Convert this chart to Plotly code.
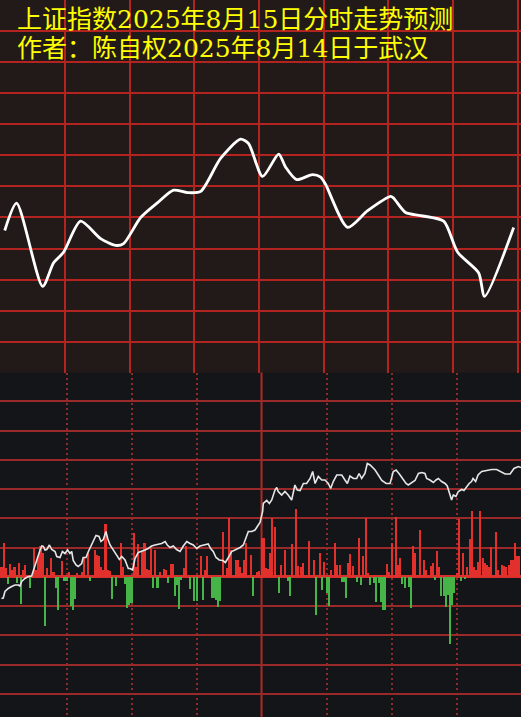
import plotly.graph_objects as go

# ---------------- top panel: forecast curve (minutes since open, index level)
fc_min = [1.9, 7.4, 19.5, 24.6, 29.2, 37.1, 46.4, 53.4, 57.1, 65.0, 72.9, 80.3,
          86.8, 92.9, 102.1, 111.4, 115.1, 121.6, 129.1, 132.3, 137.4, 144.8,
          148.6, 150.9, 161.1, 170.4, 181.1, 182.5, 188.0, 195.0, 205.7, 212.2,
          221.9, 224.7, 238.2]
fc_val = [3662.9, 3667.3, 3653.9, 3657.7, 3659.4, 3664.4, 3661.6, 3660.5, 3660.8,
          3665.0, 3667.4, 3669.4, 3669.0, 3669.2, 3674.5, 3677.6, 3676.9, 3671.6,
          3675.2, 3673.1, 3671.1, 3671.9, 3671.5, 3670.3, 3663.4, 3666.1, 3668.4,
          3668.1, 3665.8, 3665.3, 3664.4, 3659.4, 3656.1, 3652.3, 3663.4]

# ---------------- bottom panel: actual intraday price (minutes, index level)
price_min = [0.0, 0.8, 1.6, 3.1, 4.7, 6.2, 7.8, 8.5, 9.3, 10.8, 12.4, 13.9, 17.8, 18.6, 19.3,
             20.1, 20.9, 22.1, 23.2, 24.7, 25.5, 27.0, 28.1, 29.3, 30.5, 31.6, 32.4, 33.1,
             34.4, 35.4, 37.0, 37.7, 39.0, 40.1, 43.6, 45.0, 45.9, 47.0, 48.2, 49.0, 50.1,
             54.4, 55.5, 57.0, 58.5,
             59.3, 60.5, 61.6, 63.1, 64.7, 66.2, 67.7, 69.3, 70.8, 72.4, 73.9, 75.5, 76.5,
             77.8, 79.3, 80.8, 82.4, 83.9, 85.5, 87.0, 88.5, 90.1, 91.6, 93.4, 95.4, 96.5,
             97.7, 99.0, 100.5, 102.1, 103.3, 104.7, 106.2, 108.2, 110.1, 111.6, 112.8,
             113.9, 115.5, 117.0, 118.5, 119.3,
             120.5, 120.8, 122.4, 123.6, 124.7, 126.2, 127.0, 127.7, 129.3, 130.8, 132.3,
             133.9, 135.4, 136.5, 137.8, 139.3, 140.8, 142.4, 143.6, 144.7, 146.2, 147.8,
             149.3, 150.8, 151.9, 153.1, 154.7, 157.0, 158.5, 159.6, 160.8, 162.4, 163.9,
             165.0, 166.2, 167.7, 168.8, 170.1, 172.4, 173.9, 175.5, 177.5, 179.3,
             180.8, 182.1, 183.6, 185.1, 186.7, 187.7, 189.3, 190.8, 192.4, 193.9, 195.4,
             196.2, 197.7, 199.3, 200.5, 201.6, 203.1, 204.7, 205.7, 206.6, 207.7, 208.5,
             209.7, 210.8, 212.4, 213.4, 214.3, 215.8, 216.9, 217.6, 218.8, 219.9, 221.6,
             223.9, 226.2, 228.5, 230.0, 232.4, 234.7, 236.5, 238.5, 239.7]
price_val = [3660.3, 3660.4, 3661.7, 3662.3, 3662.7, 3663.0, 3663.0, 3662.8, 3663.7, 3664.3,
             3664.7, 3664.8, 3670.0, 3670.8, 3670.7, 3670.0, 3670.1, 3671.0, 3670.1, 3669.7,
             3668.7, 3668.5, 3669.7, 3669.3, 3670.0, 3669.3, 3669.7, 3667.9, 3667.0, 3666.7,
             3667.3, 3668.5, 3668.5, 3669.7, 3672.9, 3672.7, 3671.7, 3672.1, 3673.7, 3672.3,
             3671.0, 3668.1, 3668.7, 3668.0, 3666.3,
             3666.3, 3666.0, 3668.3, 3669.5, 3669.7, 3670.0, 3670.3, 3670.8, 3671.0, 3671.2,
             3671.3, 3671.7, 3671.0, 3670.5, 3670.8, 3670.1, 3669.7, 3670.8, 3671.7, 3671.3,
             3671.0, 3670.3, 3670.8, 3671.0, 3671.2, 3670.3, 3669.7, 3668.5, 3668.0, 3667.9,
             3667.5, 3668.5, 3669.7, 3670.1, 3670.5, 3671.0, 3672.3, 3673.7, 3673.7, 3674.0,
             3675.0, 3675.5,
             3677.7, 3679.3, 3679.9, 3679.3, 3680.0, 3682.0, 3682.5, 3681.7, 3681.0, 3681.7,
             3681.0, 3680.0, 3683.0, 3682.0, 3681.9, 3683.3, 3683.3, 3684.3, 3685.7, 3683.3,
             3684.7, 3684.0, 3684.0, 3683.3, 3682.3, 3683.7, 3685.0, 3685.0, 3684.0, 3683.3,
             3684.8, 3684.3, 3684.3, 3685.3, 3684.3, 3685.3, 3687.3, 3687.0, 3686.0, 3685.0,
             3683.9, 3683.3, 3683.3,
             3685.7, 3686.0, 3685.2, 3684.3, 3683.3, 3683.0, 3683.5, 3683.9, 3685.3, 3685.5,
             3685.3, 3684.3, 3684.0, 3683.5, 3684.0, 3684.3, 3683.7, 3683.3, 3682.8, 3681.7,
             3680.0, 3681.0, 3680.7, 3681.7, 3682.1, 3681.9, 3682.5, 3683.3, 3683.7, 3684.3,
             3683.7, 3685.0, 3685.7, 3685.9, 3686.1, 3686.1, 3685.7, 3685.2, 3685.2, 3686.3,
             3686.7, 3686.5]

# ---------------- bottom panel: per-minute bars (positive red, negative green)
bar_min = [0, 1, 2, 3, 4, 5, 6, 7, 8, 9,
           10, 11, 13, 15, 16, 17, 18, 19, 20, 21,
           23, 24, 25, 26, 28, 29, 30, 31, 32, 33,
           34, 35, 37, 38, 40, 41, 43, 44, 45, 46,
           47, 48, 49, 50, 51, 53, 55, 56, 57, 58,
           59, 60, 61, 62, 63, 65, 66, 67, 68, 69,
           70, 71, 72, 73, 75, 76, 77, 78, 79, 80,
           81, 82, 83, 84, 85, 87, 88, 89, 90, 92,
           93, 94, 95, 97, 98, 99, 100, 101, 102, 104,
           105, 106, 108, 109, 110, 111, 112, 113, 115, 116,
           118, 119, 120, 121, 122, 123, 124, 125, 126, 128,
           129, 131, 132, 133, 134, 136, 137, 138, 139, 142,
           144, 145, 147, 148, 149, 150, 151, 152, 154, 155,
           156, 157, 158, 159, 160, 161, 162, 164, 165, 166,
           167, 168, 169, 170, 172, 173, 174, 175, 176, 177,
           178, 179, 180, 182, 183, 184, 185, 186, 188, 189,
           190, 191, 192, 193, 194, 195, 196, 198, 199, 200,
           201, 202, 203, 204, 205, 206, 207, 208, 209, 210,
           211, 212, 213, 214, 215, 216, 217, 218, 219, 220,
           221, 222, 223, 224, 225, 226, 228, 229, 230, 231,
           232, 233, 234, 235, 236, 237, 238, 239]
bar_val = [3.5, 11.7, 3.1, -2.4, 4.5, 2.4, 3.2, -2.2, 4.8, -9.2,
           2.4, 4.1, -3.9, 9.8, 2.4, 7.0, 10.4, 8.2, -16.8, 3.1,
           6.5, 1.7, -3.9, -11.5, 5.5, -1.4, -1.4, 1.7, -9.9, -11.5,
           -7.6, 1.4, 1.7, 6.5, 8.2, -1.4, 9.2, 7.5, 7.2, 3.4,
           2.4, 18.2, 2.4, 2.0, -7.6, -3.3, 11.7, 3.4, -2.4, -10.5,
           -9.6, -9.0, 15.0, 3.4, 11.3, 8.7, 11.5, 2.7, 2.4, 9.8,
           -3.9, 9.2, -3.9, 1.7, 2.7, 2.4, -2.2, 4.3, 4.3, -6.5,
           -2.7, -11.1, -1.0, 3.1, 10.6, -4.2, 0.7, -8.4, -8.4, 7.2,
           -7.9, 2.4, 7.2, -7.3, -7.3, -7.9, -10.2, -8.4, 15.5, 3.1,
           20.1, 9.2, 5.6, 5.6, 3.4, 1.4, 5.8, 11.5, 7.5, -6.5,
           1.7, 2.0, 13.2, 13.2, 3.1, 2.7, 8.1, 20.1, 17.0, -5.6,
           4.1, 9.2, -1.3, -6.6, 11.2, 23.3, 3.8, 3.4, 4.6, 12.2,
           5.9, -13.0, 8.1, -4.5, 5.1, -5.6, -9.9, 2.4, 11.7, 3.9,
           3.9, -1.8, -1.8, -7.2, 4.9, 7.9, 3.8, -1.8, 13.2, -2.7,
           7.0, 20.1, 1.4, -2.7, -2.2, -8.7, -2.2, -8.6, -11.3, -11.3,
           4.3, 1.7, 11.5, 20.6, 4.1, 6.4, -2.4, -3.9, -3.4, -10.7,
           10.6, 8.1, 0.7, 15.9, 0.7, 5.8, 2.4, 3.8, 4.7, -1.0,
           9.0, 3.3, -6.7, -6.7, -10.2, -6.2, -22.9, -9.8, -5.6, 1.3,
           19.8, -1.4, 8.1, -0.8, 3.3, 12.9, 22.4, 3.5, 2.2, 5.0,
           22.4, 6.4, 4.7, 4.1, 3.5, 10.2, 15.5, 2.4, 0.7, 4.1,
           3.8, 3.3, 4.1, 5.8, 5.8, 11.7, 7.0, 7.0]

title_lines = ["上证指数2025年8月15日分时走势预测", "作者：陈自权2025年8月14日于武汉"]

W, H = 521, 717
split = 1 - 372.5 / H          # boundary between the two panels (paper units)

TOP_BG = "#221a18"
BOT_BG = "#141518"
RED = "#e2302c"
GREEN = "#46b446"
TITLE_FONT = dict(family="DejaVu Serif, Noto Sans CJK SC", size=25, color="#ffff00")

fig = go.Figure()

# top forecast line
fig.add_trace(go.Scatter(
    x=fc_min, y=fc_val, mode="lines", xaxis="x", yaxis="y",
    line=dict(color="#ffffff", width=2.8, shape="spline", smoothing=0.7),
    hoverinfo="skip", showlegend=False))

# bottom bars
bar_colors = [RED if v >= 0 else GREEN for v in bar_val]
fig.add_trace(go.Bar(
    x=bar_min, y=bar_val, xaxis="x2", yaxis="y2", width=0.95,
    marker=dict(color=bar_colors, line=dict(width=0)),
    hoverinfo="skip", showlegend=False))

# bottom price line
fig.add_trace(go.Scatter(
    x=price_min, y=price_val, mode="lines", xaxis="x2", yaxis="y3",
    line=dict(color="#e6e6e6", width=1.6),
    hoverinfo="skip", showlegend=False))

fig.update_layout(
    width=W, height=H,
    margin=dict(l=0, r=0, t=0, b=0),
    paper_bgcolor=BOT_BG,
    plot_bgcolor="rgba(0,0,0,0)",
    showlegend=False,
    bargap=0,
    xaxis=dict(domain=[0, 1], anchor="y", range=[-0.3, 241.6],
               tick0=0, dtick=30, showgrid=True, gridcolor="#b3231f", gridwidth=2,
               showticklabels=False, ticks="", zeroline=False, showline=False),
    yaxis=dict(domain=[split, 1], anchor="x", range=[3640.05, 3700],
               tick0=3640, dtick=5, showgrid=True, gridcolor="#b3231f", gridwidth=2,
               showticklabels=False, ticks="", zeroline=False, showline=False),
    xaxis2=dict(domain=[0, 1], anchor="y2", range=[-0.69, 239.73],
                tickmode="array", tickvals=[30, 60, 90, 150, 180, 210],
                showgrid=True, gridcolor="#8e2a2a", gridwidth=2, griddash="2px,3px",
                showticklabels=False, ticks="", zeroline=False, showline=False),
    yaxis2=dict(domain=[0, split], anchor="x2", range=[-47.95, 69.9],
                tick0=0, dtick=10, showgrid=True, gridcolor="#9a2a2a", gridwidth=2,
                zeroline=True, zerolinecolor="#d8302c", zerolinewidth=3,
                showticklabels=False, ticks="", showline=False),
    yaxis3=dict(overlaying="y2", anchor="x2", range=[3636.6, 3705.5],
                visible=False, showgrid=False, zeroline=False),
    shapes=[
        dict(type="rect", xref="paper", yref="paper", x0=0, x1=1, y0=split, y1=1,
             fillcolor=TOP_BG, line=dict(width=0), layer="below"),
        dict(type="line", xref="x2", yref="paper", x0=120, x1=120, y0=0, y1=split,
             line=dict(color="#b02828", width=2), layer="below"),
    ],
    annotations=[
        dict(text=title_lines[0], xref="paper", yref="paper",
             x=16 / W, y=1 - 19 / H, xanchor="left", yanchor="middle",
             showarrow=False, borderpad=0, font=TITLE_FONT),
        dict(text=title_lines[1], xref="paper", yref="paper",
             x=16 / W, y=1 - 48.5 / H, xanchor="left", yanchor="middle",
             showarrow=False, borderpad=0, font=TITLE_FONT),
    ],
)

fig.write_html("out.html",
               config={"displayModeBar": False, "staticPlot": True},
               post_script="document.body.style.margin='0';"
                           "document.body.style.overflow='hidden';")
